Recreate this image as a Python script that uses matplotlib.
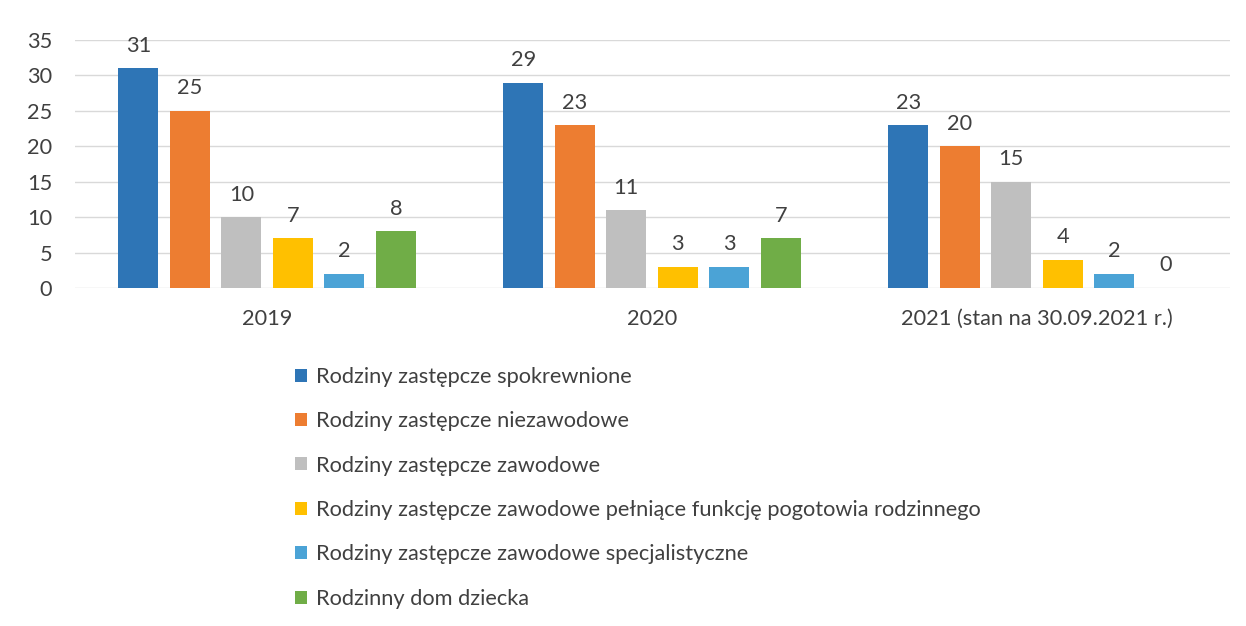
import numpy as np
import matplotlib
matplotlib.use("Agg")
import matplotlib.pyplot as plt

# Data
years = ["2019", "2020", "2021 (stan na 30.09.2021 r.)"]
series_names = [
    "Rodziny zastępcze spokrewnione",
    "Rodziny zastępcze niezawodowe",
    "Rodziny zastępcze zawodowe",
    "Rodziny zastępcze zawodowe pełniące funkcję pogotowia rodzinnego",
    "Rodziny zastępcze zawodowe specjalistyczne",
    "Rodzinny dom dziecka",
]
spokrewnione = [31, 29, 23]
niezawodowe = [25, 23, 20]
zawodowe = [10, 11, 15]
pogotowie = [7, 3, 4]
specjalistyczne = [2, 3, 2]
dom_dziecka = [8, 7, 0]

colors = ["#2E75B6", "#ED7D31", "#BFBFBF", "#FFC000", "#4BA3D6", "#70AD47"]
text_color = "#404040"
fs = 15.7

plt.rcParams["font.family"] = ["Lato", "DejaVu Sans"]

fig = plt.figure(figsize=(12.46, 6.26), dpi=100)
ax = fig.add_axes([0.0598, 0.540, 0.927, 0.396])

all_series = [spokrewnione, niezawodowe, zawodowe, pogotowie, specjalistyczne, dom_dziecka]
x = np.arange(len(years))
step = 0.1338
width = 0.104
offsets = (np.arange(len(all_series)) - 2.5) * step

for i, (vals, name) in enumerate(zip(all_series, series_names)):
    bars = ax.bar(x + offsets[i], vals, width, color=colors[i], label=name, zorder=3)
    for b, v in zip(bars, vals):
        ax.annotate(str(v), (b.get_x() + b.get_width() / 2, v),
                    xytext=(0, 9), textcoords="offset points",
                    ha="center", va="bottom", fontsize=fs, color=text_color)

ax.set_xlim(-0.5, 2.5)
ax.set_ylim(0, 35)
ax.set_yticks(range(0, 36, 5))
ax.set_xticks(x)
ax.set_xticklabels(years)
ax.tick_params(axis="both", length=0, labelsize=fs, colors=text_color)
ax.tick_params(axis="y", pad=16)
ax.tick_params(axis="x", pad=15)
ax.grid(axis="y", color="#D9D9D9", linewidth=1, zorder=0)
for s in ax.spines.values():
    s.set_visible(False)

fig.legend(loc="upper left", bbox_to_anchor=(0.230, 0.428), frameon=False,
           fontsize=fs, labelcolor=text_color, handlelength=0.55, handleheight=0.55,
           handletextpad=0.4, labelspacing=1.12, borderaxespad=0)

fig.savefig("out.png", dpi=100)
